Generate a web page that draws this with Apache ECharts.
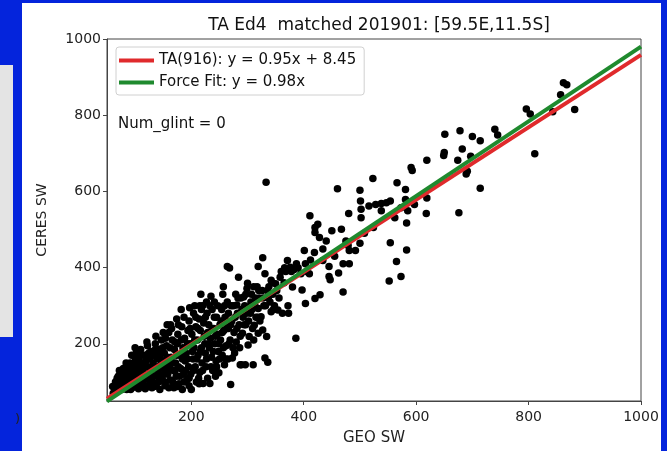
<!DOCTYPE html>
<html>
<head>
<meta charset="utf-8">
<script src="https://cdn.jsdelivr.net/npm/echarts@6/dist/echarts.min.js"></script>
<style>
  html, body { margin: 0; padding: 0; }
  #main { width: 667px; height: 451px; }
</style>
</head>
<body>
<div id="main"></div>
<script>
// GEO SW vs CERES SW (x, y)
var points = [
  [60,88],[63,75],[66,95],[70,82],[72,100],[75,120],[68,110],[61,70],
  [78,90],[80,105],[82,125],[85,80],[86,112],[88,140],[90,95],[92,130],[84,150],[79,135],
  [95,85],[96,110],[98,150],[100,125],[102,175],[104,95],[105,140],[107,160],[108,115],[110,185],[112,100],[100,190],[106,82],
  [113,130],[115,150],[117,170],[118,90],[120,120],[122,195],[123,140],[125,105],[126,160],[128,180],[130,85],[129,130],[116,110],[121,205],
  [132,150],[133,115],[135,170],[136,200],[138,95],[140,140],[141,125],[143,185],[144,80],[145,160],[147,210],[148,110],[150,135],[137,220],[142,100],
  [152,175],[153,90],[155,150],[156,195],[158,120],[160,230],[161,140],[163,105],[164,165],[166,210],[168,130],[169,85],[170,185],[157,250],[165,240],
  [172,150],[173,115],[175,200],[176,225],[178,95],[180,170],[181,135],[183,245],[184,80],[185,190],[186,120],[188,215],[189,155],[174,265],[182,290],
  [191,175],[192,105],[194,235],[195,140],[196,260],[198,200],[199,120],[200,80],[201,225],[203,160],[204,280],[205,190],[207,140],[208,245],[209,100],[206,300],[197,295],
  [211,210],[212,170],[214,265],[215,125],[216,235],[218,190],[219,150],[220,300],[221,96],[222,255],[224,200],[225,175],[226,140],[228,280],[229,230],[217,330],[213,110],
  [231,250],[232,190],[233,96],[234,215],[236,165],[237,290],[238,130],[240,240],[241,310],[242,200],[244,155],[245,270],[246,225],[248,180],[249,124],[235,325],[243,115],
  [251,250],[252,210],[254,290],[255,170],[256,330],[258,235],[259,145],[260,270],[262,195],[264,310],[265,160],[266,240],[268,399],[264,403],[269,210],[270,93],[257,350],
  [272,260],[273,163],[275,300],[276,230],[277,176],[279,330],[280,205],[281,302],[282,280],[284,375],[285,250],[286,190],[288,320],[289,145],[287,145],
  [291,228],[292,270],[293,323],[295,300],[296,145],[297,250],[299,345],[300,359],[301,197],[303,219],[304,297],[305,280],[307,330],[309,240],[311,210],[312,249],[310,145],
  [313,300],[315,270],[317,350],[319,293],[319,403],[319,228],[321,320],[322,260],[324,271],[326,340],[327,236],[327,426],[329,300],[331,384],[331,163],[333,624],[334,219],[336,152],[337,320],[338,350],[342,284],[342,367],
  [345,330],[348,300],[350,358],[354,289],[358,375],[362,280],[365,360],[368,390],[371,419],[373,280],[376,401],[380,349],[383,395],[386,215],[387,410],[390,400],
  [395,384],[397,341],[401,445],[403,410],[403,306],[405,390],[410,384],[411,536],[412,420],[419,440],[420,319],[420,505],[420,492],[425,514],[428,479],[429,329],
  [434,449],[434,419],[440,470],[445,403],[445,377],[447,368],[450,497],[455,430],[460,607],[462,386],[467,501],[470,410],[470,336],[475,470],[479,458],[480,542],
  [481,445],[481,410],[492,445],[500,464],[500,603],[501,575],[502,553],[502,531],[508,490],[516,562],[523,634],[524,505],[528,566],[538,568],[538,549],[547,570],
  [552,365],[554,575],[554,465],[562,531],[565,416],[566,623],[573,557],[573,377],[581,605],[581,579],[583,517],[583,446],[585,549],[591,663],[593,655],[597,566],
  [618,542],[619,583],[619,682],[649,694],[650,702],[651,750],[674,682],[676,544],[678,759],[682,711],[689,646],[691,653],[697,692],[700,744],[714,733],[714,608],
  [740,763],[745,748],[796,816],[803,803],[811,699],[843,809],[857,854],[862,885],[868,880],[882,815],
  // dense core
  [65,100],[70,115],[74,90],[77,108],[81,95],[83,118],[87,100],[89,125],[91,150],[93,112],[94,170],[97,135],[99,100],[101,160],[103,118],[97,92],[72,130],[76,80],[88,85],[92,80],
  [104,130],[106,150],[109,125],[111,170],[114,95],[116,140],[119,155],[121,110],[124,175],[126,125],[127,95],[131,170],[131,100],[134,135],[136,185],[139,160],[139,115],[134,88],[118,82],[110,90],[124,88],[142,170],[112,145],
  [146,145],[149,190],[151,120],[154,100],[154,215],[157,165],[159,135],[162,190],[163,250],[167,150],[167,100],[171,205],[171,130],[174,170],[177,140],[177,250],[179,115],[182,210],[184,160],[187,100],[187,270],[190,130],[193,200],[193,160],[196,110],[198,240],[196,90],[160,85],[175,88],[150,230],
  [202,180],[204,130],[206,210],[208,270],[210,160],[212,240],[214,95],[216,180],[218,290],[220,130],[223,220],[225,270],[227,160],[229,110],[231,200],[233,300],[235,140],[237,240],[239,180],[241,270],[243,220],[245,140],[247,300],[249,200],[253,260],[255,230],[257,190],[259,300],[261,160],[263,250],[227,310],[250,160],[215,300],
  [266,280],[267,200],[270,250],[271,300],[274,190],[278,270],[281,240],[283,320],[287,220],[290,290],[294,250],[297,330],[298,280],[302,260],[306,310],[308,290],[311,350],[314,320],[318,270],[320,340],
  [328,320],[332,300],[335,340],[340,310],[344,360],[346,290],[352,340],[356,320],[360,390],[366,400],[372,300],[378,390]
];

var xRange = [50, 1000];
var taFit = [0.95, 8.45];   // slope, intercept
var forceFit = [0.98, 0];
var xTicks = [200, 400, 600, 800, 1000];
var yTicks = [200, 400, 600, 800, 1000];

function fitLine(c) {
  return xRange.map(function (x) { return [x, c[0] * x + c[1]]; });
}
function plain(v) { return String(v); }

var font = 'DejaVu Sans';
var chart = echarts.init(document.getElementById('main'));

var option = {
  backgroundColor: '#0424dc',
  animation: false,
  textStyle: { fontFamily: font },
  graphic: [
    { type: 'rect', z: -1, shape: { x: 0, y: 65, width: 13, height: 272 }, style: { fill: '#e4e4e4' } },
    { type: 'rect', z: -1, shape: { x: 22, y: 3, width: 639, height: 448 }, style: { fill: '#ffffff' } },
    { type: 'text', left: 15, top: 413, style: { text: ')', fill: '#222', font: '13px ' + font } },
    { type: 'text', left: 118, top: 117, z: 10, style: { text: 'Num_glint = 0', fill: '#111', font: '15px ' + font } }
  ],
  title: {
    text: 'TA Ed4  matched 201901: [59.5E,11.5S]',
    left: 374, textAlign: 'center', top: 12,
    textStyle: { fontFamily: font, fontSize: 17, fontWeight: 'normal', color: '#111' }
  },
  legend: {
    left: 116, top: 47, orient: 'vertical',
    itemWidth: 35, itemHeight: 4, itemGap: 7,
    padding: [6, 8, 5, 3],
    backgroundColor: '#fff', borderColor: '#d0d0d0', borderWidth: 1, borderRadius: 3,
    textStyle: { fontFamily: font, fontSize: 15, color: '#111' },
    data: [
      { name: 'TA(916): y = 0.95x + 8.45', icon: 'rect' },
      { name: 'Force Fit: y = 0.98x', icon: 'rect' }
    ]
  },
  grid: {
    left: 107, right: 26, top: 39, bottom: 46,
    show: true, borderColor: '#444', borderWidth: 1, backgroundColor: 'transparent'
  },
  xAxis: {
    type: 'value', min: xRange[0], max: xRange[1],
    name: 'GEO SW', nameLocation: 'middle', nameGap: 30,
    nameTextStyle: { fontFamily: font, fontSize: 15, color: '#222' },
    splitLine: { show: false },
    axisLine: { lineStyle: { color: '#444' } },
    axisTick: { length: 4, lineStyle: { color: '#444' }, customValues: xTicks },
    axisLabel: { fontSize: 14, color: '#222', margin: 9, customValues: xTicks, formatter: plain }
  },
  yAxis: {
    type: 'value', min: 50, max: 1000,
    name: 'CERES SW', nameLocation: 'middle', nameGap: 58,
    nameTextStyle: { fontFamily: font, fontSize: 14, color: '#222' },
    splitLine: { show: false },
    axisLine: { show: true, lineStyle: { color: '#444' } },
    axisTick: { show: true, length: 4, lineStyle: { color: '#444' }, customValues: yTicks },
    axisLabel: { fontSize: 14, color: '#222', margin: 6, customValues: yTicks, formatter: plain }
  },
  series: [
    {
      type: 'scatter', data: points, symbolSize: 7.5,
      itemStyle: { color: '#000', opacity: 1 }, silent: true, z: 2
    },
    {
      name: 'TA(916): y = 0.95x + 8.45', type: 'line', data: fitLine(taFit),
      symbol: 'none', lineStyle: { color: '#e02a2c', width: 4 },
      itemStyle: { color: '#e02a2c' }, z: 3
    },
    {
      name: 'Force Fit: y = 0.98x', type: 'line', data: fitLine(forceFit),
      symbol: 'none', lineStyle: { color: '#1f8a2e', width: 4 },
      itemStyle: { color: '#1f8a2e' }, z: 4
    }
  ]
};

chart.setOption(option);
</script>
</body>
</html>
